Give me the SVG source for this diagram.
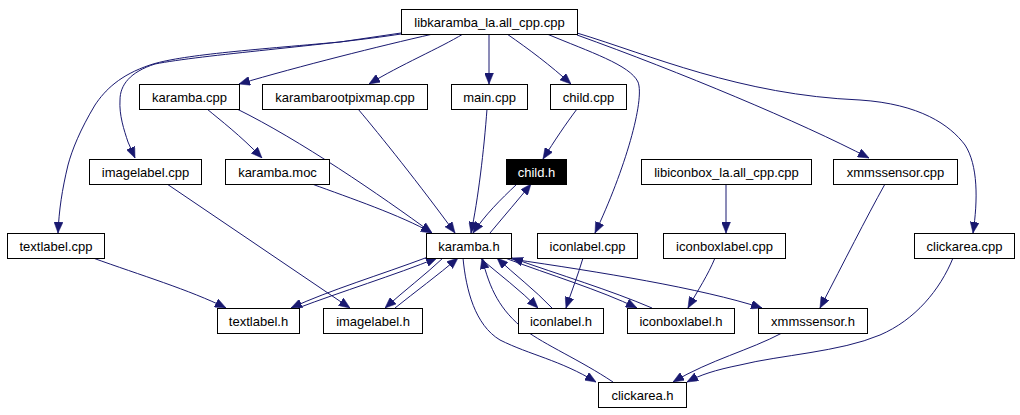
<svg xmlns="http://www.w3.org/2000/svg" width="1020" height="415" viewBox="0 0 1020 415">
<style>
.n rect{fill:#ffffff;stroke:#000000;stroke-width:1}
.n text{font-family:"Liberation Sans",Arial,sans-serif;font-size:13px;fill:#000000;text-anchor:middle}
.hl rect{fill:#000000}
.hl text{fill:#ffffff}
.e path{fill:none;stroke:#191970;stroke-width:1;marker-end:url(#ah)}
</style>
<defs>
<marker id="ah" viewBox="0 0 11 9" refX="11" refY="4.5" markerWidth="11" markerHeight="9" markerUnits="userSpaceOnUse" orient="auto">
<path d="M0,0 L11,4.5 L0,9 z" fill="#191970" stroke="#191970" stroke-width="0.5"/>
</marker>
</defs>
<rect width="1020" height="415" fill="#ffffff"/>
<g id="connectors" class="e">
<path d="M433,34 C 380,46 300,66 239,84"/>
<path d="M463,34 C 440,48 400,65 369,84"/>
<path d="M489,34 L489,84"/>
<path d="M507,34 C 530,50 550,65 571,84"/>
<path d="M401,34 C 330,45 200,55 155,64 C 130,72 120,85 120,100 C 119,115 124,130 128,142 L135,158"/>
<path d="M401,33 L340,42 C 250,50 180,55 150,65 C 120,75 105,90 95,105 C 80,130 72,150 68,165 C 62,190 59,210 58,233"/>
<path d="M547,34 C 590,52 630,65 638,82 C 645,100 625,170 595,233"/>
<path d="M577,35 C 680,72 800,122 869,158"/>
<path d="M577,33 C 650,55 740,95 860,100 C 920,104 950,125 965,145 C 978,165 978,200 973,233"/>
<path d="M207,109 C 220,120 240,135 262,158"/>
<path d="M237,109 C 300,140 380,195 432,233"/>
<path d="M358,109 C 380,135 420,185 455,233"/>
<path d="M487,109 C 484,150 478,200 471,233"/>
<path d="M577,109 C 565,125 555,140 543,159"/>
<path d="M517,184 C 500,200 485,215 473,233"/>
<path d="M490,233 C 505,215 518,200 531,184"/>
<path d="M312,184 C 350,198 400,215 432,233"/>
<path d="M167,184 L350,308"/>
<path d="M93,258 C 140,275 190,290 226,308"/>
<path d="M428,257 C 380,275 330,290 291,308"/>
<path d="M298,308 C 340,292 395,275 437,258"/>
<path d="M443,258 C 425,275 405,290 385,308"/>
<path d="M395,308 C 415,292 438,275 458,258"/>
<path d="M463,258 C 466,290 475,325 500,340 C 530,355 560,360 596,382"/>
<path d="M613,382 C 580,360 545,345 525,330 C 500,310 490,290 482,258"/>
<path d="M480,258 C 500,275 520,290 538,308"/>
<path d="M552,308 C 535,290 515,275 497,258"/>
<path d="M583,258 C 578,275 572,290 566,308"/>
<path d="M505,258 C 550,275 600,290 637,308"/>
<path d="M652,308 C 610,290 560,275 512,258"/>
<path d="M511,259 C 600,272 700,288 762,308"/>
<path d="M715,258 C 708,275 698,290 688,308"/>
<path d="M726,184 L726,233"/>
<path d="M885,184 C 865,220 845,260 820,308"/>
<path d="M782,333 C 750,350 710,360 673,382"/>
<path d="M953,258 C 940,290 915,320 880,335 C 840,352 780,355 740,365 C 715,370 700,375 687,382"/>
</g>
<g id="n_lib" class="n"><rect x="401.5" y="9.5" width="176" height="25"/><text x="489.5" y="27">libkaramba_la.all_cpp.cpp</text></g>
<g id="n_karamba_cpp" class="n"><rect x="139.5" y="84.5" width="100" height="25"/><text x="189.5" y="102">karamba.cpp</text></g>
<g id="n_krp" class="n"><rect x="262.5" y="84.5" width="165" height="25"/><text x="345" y="102">karambarootpixmap.cpp</text></g>
<g id="n_main" class="n"><rect x="451.5" y="84.5" width="76" height="25"/><text x="489.5" y="102">main.cpp</text></g>
<g id="n_child_cpp" class="n"><rect x="550.5" y="84.5" width="76" height="25"/><text x="588.5" y="102">child.cpp</text></g>
<g id="n_imagelabel_cpp" class="n"><rect x="89.5" y="159.5" width="112" height="25"/><text x="145.5" y="177">imagelabel.cpp</text></g>
<g id="n_karamba_moc" class="n"><rect x="225.5" y="159.5" width="104" height="25"/><text x="277.5" y="177">karamba.moc</text></g>
<g id="n_child_h" class="n hl"><rect x="506.5" y="159.5" width="60" height="25"/><text x="536.5" y="177">child.h</text></g>
<g id="n_libiconbox" class="n"><rect x="641.5" y="159.5" width="170" height="25"/><text x="726.5" y="177">libiconbox_la.all_cpp.cpp</text></g>
<g id="n_xmms_cpp" class="n"><rect x="833.5" y="159.5" width="124" height="25"/><text x="895.5" y="177">xmmssensor.cpp</text></g>
<g id="n_textlabel_cpp" class="n"><rect x="7.5" y="233.5" width="97" height="25"/><text x="56" y="251">textlabel.cpp</text></g>
<g id="n_karamba_h" class="n"><rect x="426.5" y="233.5" width="85" height="25"/><text x="469" y="251">karamba.h</text></g>
<g id="n_iconlabel_cpp" class="n"><rect x="537.5" y="233.5" width="100" height="25"/><text x="587.5" y="251">iconlabel.cpp</text></g>
<g id="n_iconboxlabel_cpp" class="n"><rect x="663.5" y="233.5" width="122" height="25"/><text x="724.5" y="251">iconboxlabel.cpp</text></g>
<g id="n_clickarea_cpp" class="n"><rect x="914.5" y="233.5" width="100" height="25"/><text x="964.5" y="251">clickarea.cpp</text></g>
<g id="n_textlabel_h" class="n"><rect x="217.5" y="308.5" width="82" height="25"/><text x="258.5" y="326">textlabel.h</text></g>
<g id="n_imagelabel_h" class="n"><rect x="323.5" y="308.5" width="99" height="25"/><text x="373" y="326">imagelabel.h</text></g>
<g id="n_iconlabel_h" class="n"><rect x="518.5" y="308.5" width="85" height="25"/><text x="561" y="326">iconlabel.h</text></g>
<g id="n_iconboxlabel_h" class="n"><rect x="627.5" y="308.5" width="107" height="25"/><text x="681" y="326">iconboxlabel.h</text></g>
<g id="n_xmms_h" class="n"><rect x="758.5" y="308.5" width="109" height="25"/><text x="813" y="326">xmmssensor.h</text></g>
<g id="n_clickarea_h" class="n"><rect x="598.5" y="382.5" width="88" height="25"/><text x="642.5" y="400">clickarea.h</text></g>
</svg>
